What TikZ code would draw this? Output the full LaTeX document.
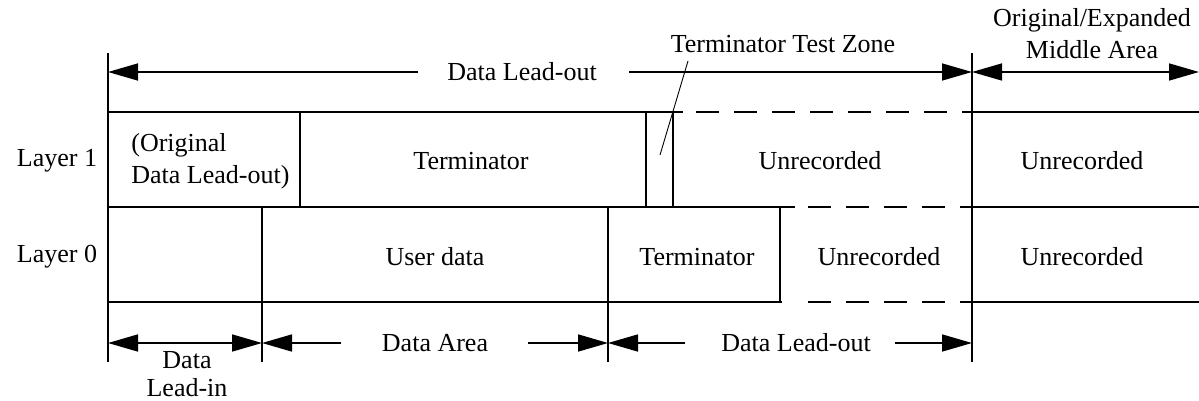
\documentclass[tikz,border=0pt]{standalone}
\usepackage{fontspec}
\setmainfont{Liberation Serif}
\usetikzlibrary{arrows.meta, calc}

\begin{document}
\begin{tikzpicture}[
        x=0.5pt, y=-0.5pt,
        font=\fontsize{13}{16}\selectfont,
        rule/.style={line width=0.8pt},
        dashrule/.style={line width=0.8pt, dash pattern=on 11.5pt off 7.5pt},
        lbl/.style={inner sep=0pt, align=center},
        cell/.style={inner sep=0pt, align=center},
        arr/.style={-{Triangle[length=15pt, width=8.5pt]}, line width=0.8pt},
        dblarr/.style={{Triangle[length=15pt, width=8.5pt]}-{Triangle[length=15pt, width=8.5pt]}, line width=0.8pt},
        leader/.style={line width=0.45pt},
    ]
        \useasboundingbox (0,0) rectangle (1199,401);

        % --- Layer names ---
        \node[lbl] (layer1) at (57,161) {Layer 1};
        \node[lbl] (layer0) at (57,257) {Layer 0};

        % --- Table: horizontal rules ---
        \draw[rule] (108,112) -- (683,112);
        \draw[dashrule] (696,112) -- (972,112);
        \draw[rule] (972,112) -- (1199,112);
        \draw[rule] (108,207) -- (795,207);
        \draw[dashrule] (808,207) -- (972,207);
        \draw[rule] (972,207) -- (1199,207);
        \draw[rule] (108,302) -- (782,302);
        \draw[dashrule] (808,302) -- (972,302);
        \draw[rule] (972,302) -- (1199,302);

        % --- Table: long vertical rules (with dimension ticks) ---
        \draw[rule] (108,53) -- (108,362);
        \draw[rule] (972,53) -- (972,362);
        \draw[rule] (262,207) -- (262,362);
        \draw[rule] (608,207) -- (608,362);

        % --- Table: cell dividers ---
        \draw[rule] (300,112) -- (300,207);
        \draw[rule] (646,112) -- (646,207);
        \draw[rule] (673,112) -- (673,207);
        \draw[rule] (780,207) -- (780,302);

        % --- Row 1: Layer 1 cells ---
        \node[cell, anchor=west, align=left] (origlo) at (131,161) {(Original\\Data Lead-out)};
        \node[cell] (term1) at (471,161) {Terminator};
        \node[cell] (unrec1) at (820,161) {Unrecorded};
        \node[cell] (unrec1r) at (1082,161) {Unrecorded};

        % --- Row 0: Layer 0 cells ---
        \node[cell] (userdata) at (435,257) {User data};
        \node[cell] (term0) at (697,257) {Terminator};
        \node[cell] (unrec0) at (879,257) {Unrecorded};
        \node[cell] (unrec0r) at (1082,257) {Unrecorded};

        % --- Top dimension arrows ---
        \coordinate (topL) at (108,72);
        \coordinate (topM) at (972,72);
        \coordinate (topR) at (1199,72);
        \node[lbl] (toplead) at (522,72) {Data Lead-out};
        \coordinate (toplead a) at (418,72);
        \coordinate (toplead b) at (629,72);
        \draw[arr] (toplead a) -- (topL);
        \draw[arr] (toplead b) -- (topM);
        \node[lbl] (middle) at (1092,34) {Original/Expanded\\Middle Area};
        \draw[dblarr] (topM) -- (topR);

        % --- Terminator test zone callout ---
        \node[lbl] (tzone) at (783,44) {Terminator Test Zone};
        \coordinate (tztop) at (688,61);
        \coordinate (tzend) at (660,155);
        \draw[leader] (tztop) -- (tzend);

        % --- Bottom dimension arrows ---
        \coordinate (botA) at (108,343);
        \coordinate (botB) at (262,343);
        \coordinate (botC) at (608,343);
        \coordinate (botD) at (972,343);
        \draw[dblarr] (botA) -- (botB);
        \node[lbl, font=\fontsize{13}{14}\selectfont] (leadin) at (187,374) {Data\\Lead-in};

        \node[lbl] (dataarea) at (435,343) {Data Area};
        \coordinate (dataarea a) at (341,343);
        \coordinate (dataarea b) at (528,343);
        \draw[arr] (dataarea a) -- (botB);
        \draw[arr] (dataarea b) -- (botC);

        \node[lbl] (botlead) at (796,343) {Data Lead-out};
        \coordinate (botlead a) at (685,343);
        \coordinate (botlead b) at (895,343);
        \draw[arr] (botlead a) -- (botC);
        \draw[arr] (botlead b) -- (botD);

    \end{tikzpicture}
\end{document}
